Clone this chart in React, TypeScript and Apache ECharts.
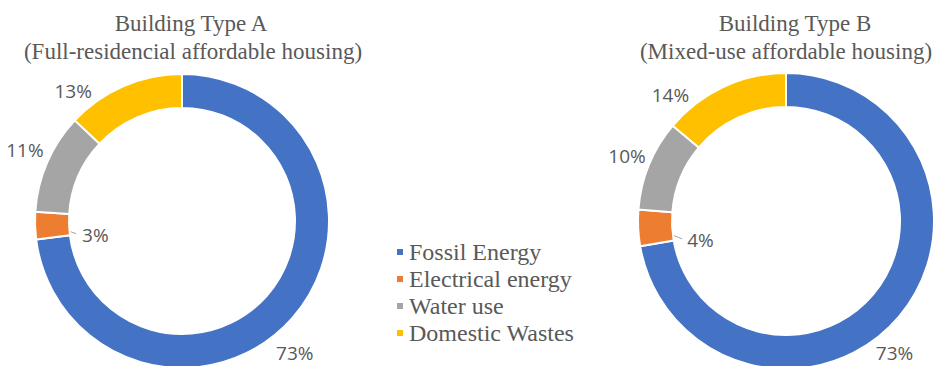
import React, { useEffect, useRef } from "react";
import * as echarts from "echarts";

const categories = ["Fossil Energy", "Electrical energy", "Water use", "Domestic Wastes"];
const valuesA = [73, 3, 11, 13];
const valuesB = [73, 4, 10, 14];
const titleA = ["Building Type A", "(Full-residencial affordable housing)"];
const titleB = ["Building Type B", "(Mixed-use affordable housing)"];

const colors = ["#4472C4", "#ED7D31", "#A5A5A5", "#FFC000"];
const labelOffsetsA = [[13, 44], [0, 0], [-35, -18], [-56, -8]];
const labelOffsetsB = [[6, 46], [0, 0], [-35, -14], [-59, -5]];
// leader-line tweak for the small slice: [lineStartDx, lineEndDx, lineEndDy, labelDx]
const leaderA = [18, 41, 8, 47];
const leaderB = [17, 44, 11, 49];

function buildData(values: number[], offsets: number[][]) {
  return values.map((v, i) => ({
    name: categories[i],
    value: v,
    label:
      i === 1
        ? { position: "outside" }
        : { position: "inside", offset: offsets[i] },
    labelLine: { show: i === 1, length: 0, length2: 0 },
  }));
}

function leaderLayout(tw: number[]) {
  return (params: any) => {
    if (params.dataIndex !== 1 || !params.labelLinePoints) return {};
    const p = params.labelLinePoints[0];
    return {
      x: p[0] + tw[3],
      y: p[1] + tw[2] + 1,
      align: "left",
      verticalAlign: "middle",
      labelLinePoints: [
        [p[0] + tw[0], p[1]],
        [p[0] + tw[1], p[1] + tw[2]],
        [p[0] + tw[1], p[1] + tw[2]],
      ],
    };
  };
}

export default function App() {
  const ref = useRef<HTMLDivElement>(null);
  useEffect(() => {
    if (!ref.current) return;
    const chart = echarts.init(ref.current, null, { renderer: "svg" });
    const labelStyle = {
      show: true,
      formatter: "{c}%",
      color: "#595959",
      fontFamily: "Open Sans",
      fontSize: 19,
      textBorderWidth: 0,
    };
    const titleStyle = {
      fontFamily: "Liberation Serif",
      fontSize: 23,
      fontWeight: "normal" as const,
      color: "#595959",
    };
    const mkTitle = (text: string, x: number, y: number) => ({
      text,
      left: x,
      top: y,
      textAlign: "center",
      padding: 0,
      textStyle: titleStyle,
    });
    const pieBase = {
      type: "pie",
      startAngle: 90,
      clockwise: true,
      avoidLabelOverlap: false,
      itemStyle: { borderColor: "#fff", borderWidth: 2 },
      label: labelStyle,
      labelLine: { lineStyle: { color: "#A5A5A5", width: 1 } },
      emphasis: { disabled: true },
    };
    chart.setOption({
      animation: false,
      color: colors,
      title: [
        mkTitle(titleA[0], 191, 12),
        mkTitle(titleA[1], 193, 40),
        mkTitle(titleB[0], 795, 12),
        mkTitle(titleB[1], 786, 40),
      ],
      legend: {
        orient: "vertical",
        left: 395,
        top: 240,
        padding: 0,
        itemWidth: 8,
        itemHeight: 8,
        itemGap: 3,
        icon: "rect",
        data: categories,
        textStyle: {
          fontFamily: "Liberation Serif",
          fontSize: 24,
          color: "#595959",
        },
      },
      series: [
        {
          ...pieBase,
          center: [182, 221],
          radius: [113, 147],
          labelLayout: leaderLayout(leaderA),
          data: buildData(valuesA, labelOffsetsA),
        },
        {
          ...pieBase,
          center: [786, 221],
          radius: [114, 148],
          labelLayout: leaderLayout(leaderB),
          data: buildData(valuesB, labelOffsetsB),
        },
      ],
    });
    return () => chart.dispose();
  }, []);
  return (
    <div
      ref={ref}
      style={{ position: "fixed", left: 0, top: 0, width: 936, height: 366, background: "#fff" }}
    />
  );
}
